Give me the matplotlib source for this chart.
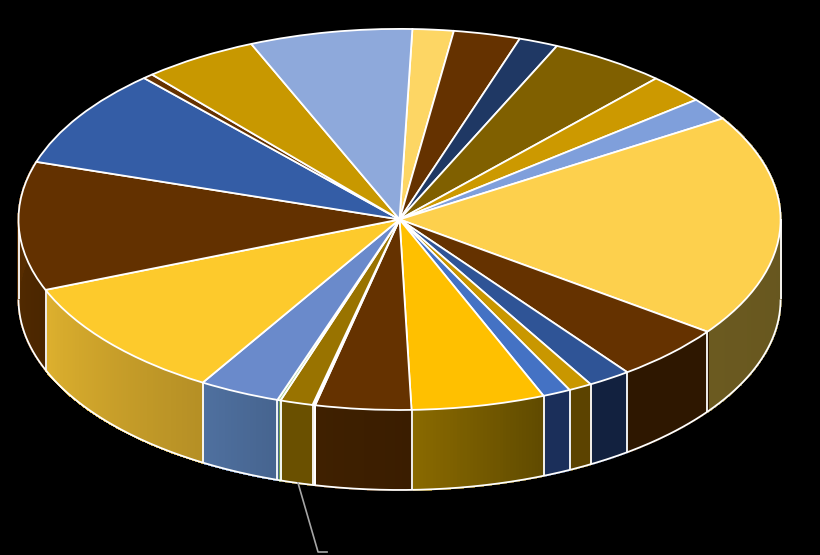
import numpy as np
import matplotlib
matplotlib.use('Agg')
import matplotlib.pyplot as plt
from matplotlib.collections import PolyCollection
from matplotlib.colors import to_rgb
from matplotlib.transforms import Affine2D

# slice shares, clockwise from the first slice right of twelve o'clock
values = [6.27, 10.2, 6.0, 17.9, 8.8, 6.9, 68.1, 17.2, 6.6, 3.6, 4.3, 20.4,
          14.6, 0.4, 5.0, 0.5, 12.4, 37.2, 39.3, 30.3, 1.6, 17.6, 24.83]
top_colors = ['#FDD664', '#653200', '#1F3864', '#806000', '#CC9900', '#7F9FDB',
              '#FDD04D', '#653200', '#2F5496', '#C99700', '#4472C4', '#FFC000',
              '#653200', '#FFFFFF', '#997300', '#A9D18E', '#6A8ACB', '#FDCA2C',
              '#633100', '#345DA6', '#653200', '#C89800', '#8EA9DB']
# rim shading of the front slices: (right end, left end), None = hidden
rim_colors = [None, None, None, None, None, None,
              ('#62521D', '#6B5A20'), ('#2E1700', '#2E1700'), ('#12213F', '#12213F'),
              ('#5C4300', '#5C4300'), ('#1B2F5A', '#1B2F5A'), ('#5F4A00', '#8A6A00'),
              ('#3A1D00', '#3F2000'), ('#FFFFFF', '#FFFFFF'), ('#6A5000', '#6A5000'),
              ('#70A050', '#70A050'), ('#46648F', '#4F709F'), ('#B58F25', '#DDB02E'),
              ('#4A2600', '#5A2E00'), None, None, None, None]
start_deg = 1.93

CX, CY, RX, RY = 399.5, 219.5, 381, 190.5
DEPTH = 80
EDGE = '#FFFFFF'
LW = 1.3


def rim_xy(a):
    # a is degrees clockwise from twelve o'clock
    r = np.radians(a)
    return CX + RX * np.sin(r), CY - RY * np.cos(r)


fig = plt.figure(figsize=(8.201, 5.551), dpi=100, facecolor='black')
ax = fig.add_axes([0, 0, 1, 1])
ax.set_facecolor('black')

# top face
wedges, _ = ax.pie(values, colors=top_colors, startangle=90 - start_deg, counterclock=False,
                   wedgeprops={'edgecolor': EDGE, 'linewidth': LW, 'zorder': 3})
squash = Affine2D().scale(RX, -RY).translate(CX, CY) + ax.transData
for w in wedges:
    w.set_transform(squash)

ax.set_xlim(0, 820)
ax.set_ylim(555, 0)
ax.set_aspect('auto')
ax.axis('off')

# rim
edges = start_deg + np.cumsum([0] + values) * 360 / np.sum(values)
quads, quad_cols = [], []
for a0, a1, cols in zip(edges[:-1], edges[1:], rim_colors):
    if cols is None:
        continue
    c0, c1 = np.array(to_rgb(cols[0])), np.array(to_rgb(cols[1]))
    steps = max(int(a1 - a0) * 2, 1)
    ts = np.linspace(0, 1, steps + 1)
    for t0, t1 in zip(ts[:-1], ts[1:]):
        x0, y0 = rim_xy(a0 + (a1 - a0) * t0)
        x1, y1 = rim_xy(a0 + (a1 - a0) * t1)
        quads.append([(x0, y0), (x1, y1), (x1, y1 + DEPTH), (x0, y0 + DEPTH)])
        quad_cols.append(c0 + (c1 - c0) * (t0 + t1) / 2)
ax.add_collection(PolyCollection(quads, facecolors=quad_cols, edgecolors=quad_cols,
                                 linewidths=1.0, antialiaseds=False, zorder=1))

# rim outline and slice separators
aa = np.linspace(90, 270, 361)
bx, by = rim_xy(aa)
ax.plot(bx, by + DEPTH, color=EDGE, lw=LW, zorder=2, solid_capstyle='butt')
ax.plot([CX + RX, CX + RX], [CY, CY + DEPTH], color=EDGE, lw=LW, zorder=2, solid_capstyle='butt')
ax.plot([CX - RX, CX - RX], [CY, CY + DEPTH], color=EDGE, lw=LW, zorder=2, solid_capstyle='butt')
for a in edges:
    a = (a + 360) % 360
    if 90 < a < 270:
        x, y = rim_xy(a)
        ax.plot([x, x], [y, y + DEPTH], color=EDGE, lw=LW, zorder=2, solid_capstyle='butt')

# leader line of the thin slice
ax.plot([298, 318, 327], [483, 552, 552], color='#A6A6A6', lw=1.2, zorder=2)

fig.savefig('out.png', dpi=100, facecolor='black')
